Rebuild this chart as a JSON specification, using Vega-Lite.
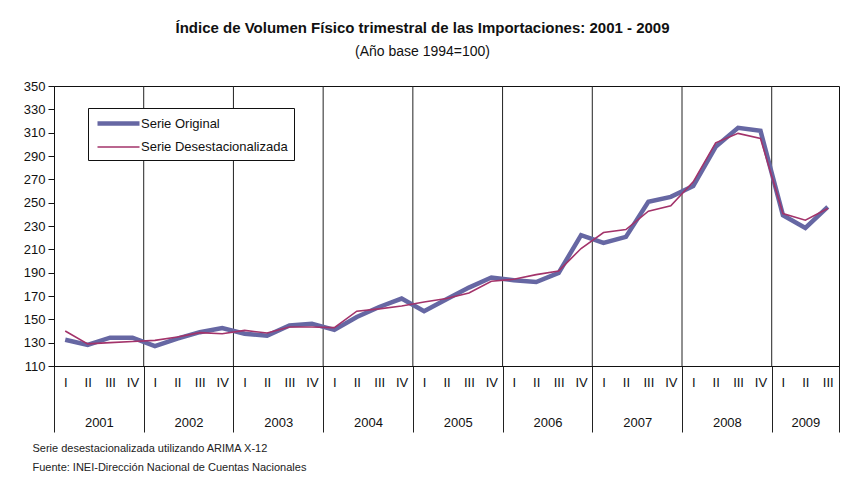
{
  "$schema": "https://vega.github.io/schema/vega-lite/v6.json",
  "width": 785,
  "height": 280,
  "autosize": {"type": "none"},
  "padding": {"left": 54, "top": 86, "right": 7, "bottom": 118},
  "background": "white",
  "title": {
    "text": "Índice de Volumen Físico trimestral de las Importaciones: 2001 - 2009",
    "subtitle": "(Año base 1994=100)",
    "anchor": "middle",
    "dx": -24,
    "offset": 21,
    "font": "Liberation Sans, Arial, sans-serif",
    "fontSize": 15,
    "fontWeight": "bold",
    "color": "#111",
    "subtitleFont": "Liberation Sans, Arial, sans-serif",
    "subtitleFontSize": 14,
    "subtitleColor": "#111",
    "subtitlePadding": 9
  },
  "config": {
    "view": {"stroke": "#111", "strokeWidth": 1},
    "font": "Liberation Sans, Arial, sans-serif",
    "axis": {"labelFont": "Liberation Sans, Arial, sans-serif", "labelFontSize": 13, "labelColor": "#111", "grid": false},
    "axisY": {"labelOverlap": false}
  },
  "datasets": {
    "series": [
      {"t": 0.5, "anio": 2001, "trim": "I", "serie": "Serie Original", "valor": 132.5},
      {"t": 1.5, "anio": 2001, "trim": "II", "serie": "Serie Original", "valor": 128},
      {"t": 2.5, "anio": 2001, "trim": "III", "serie": "Serie Original", "valor": 134.3},
      {"t": 3.5, "anio": 2001, "trim": "IV", "serie": "Serie Original", "valor": 134.3},
      {"t": 4.5, "anio": 2002, "trim": "I", "serie": "Serie Original", "valor": 127},
      {"t": 5.5, "anio": 2002, "trim": "II", "serie": "Serie Original", "valor": 133.4},
      {"t": 6.5, "anio": 2002, "trim": "III", "serie": "Serie Original", "valor": 139},
      {"t": 7.5, "anio": 2002, "trim": "IV", "serie": "Serie Original", "valor": 142.6},
      {"t": 8.5, "anio": 2003, "trim": "I", "serie": "Serie Original", "valor": 137.7},
      {"t": 9.5, "anio": 2003, "trim": "II", "serie": "Serie Original", "valor": 136},
      {"t": 10.5, "anio": 2003, "trim": "III", "serie": "Serie Original", "valor": 144.8},
      {"t": 11.5, "anio": 2003, "trim": "IV", "serie": "Serie Original", "valor": 146.3},
      {"t": 12.5, "anio": 2004, "trim": "I", "serie": "Serie Original", "valor": 141},
      {"t": 13.5, "anio": 2004, "trim": "II", "serie": "Serie Original", "valor": 152},
      {"t": 14.5, "anio": 2004, "trim": "III", "serie": "Serie Original", "valor": 160.6},
      {"t": 15.5, "anio": 2004, "trim": "IV", "serie": "Serie Original", "valor": 167.8},
      {"t": 16.5, "anio": 2005, "trim": "I", "serie": "Serie Original", "valor": 156.9},
      {"t": 17.5, "anio": 2005, "trim": "II", "serie": "Serie Original", "valor": 167.2},
      {"t": 18.5, "anio": 2005, "trim": "III", "serie": "Serie Original", "valor": 177.2},
      {"t": 19.5, "anio": 2005, "trim": "IV", "serie": "Serie Original", "valor": 185.8},
      {"t": 20.5, "anio": 2006, "trim": "I", "serie": "Serie Original", "valor": 183.5},
      {"t": 21.5, "anio": 2006, "trim": "II", "serie": "Serie Original", "valor": 182},
      {"t": 22.5, "anio": 2006, "trim": "III", "serie": "Serie Original", "valor": 189.8},
      {"t": 23.5, "anio": 2006, "trim": "IV", "serie": "Serie Original", "valor": 222.1},
      {"t": 24.5, "anio": 2007, "trim": "I", "serie": "Serie Original", "valor": 215.5},
      {"t": 25.5, "anio": 2007, "trim": "II", "serie": "Serie Original", "valor": 220.7},
      {"t": 26.5, "anio": 2007, "trim": "III", "serie": "Serie Original", "valor": 250.7},
      {"t": 27.5, "anio": 2007, "trim": "IV", "serie": "Serie Original", "valor": 255},
      {"t": 28.5, "anio": 2008, "trim": "I", "serie": "Serie Original", "valor": 264.2},
      {"t": 29.5, "anio": 2008, "trim": "II", "serie": "Serie Original", "valor": 297.9},
      {"t": 30.5, "anio": 2008, "trim": "III", "serie": "Serie Original", "valor": 314.2},
      {"t": 31.5, "anio": 2008, "trim": "IV", "serie": "Serie Original", "valor": 311.6},
      {"t": 32.5, "anio": 2009, "trim": "I", "serie": "Serie Original", "valor": 239.3},
      {"t": 33.5, "anio": 2009, "trim": "II", "serie": "Serie Original", "valor": 228.4},
      {"t": 34.5, "anio": 2009, "trim": "III", "serie": "Serie Original", "valor": 246.4},
      {"t": 0.5, "anio": 2001, "trim": "I", "serie": "Serie Desestacionalizada", "valor": 140},
      {"t": 1.5, "anio": 2001, "trim": "II", "serie": "Serie Desestacionalizada", "valor": 129},
      {"t": 2.5, "anio": 2001, "trim": "III", "serie": "Serie Desestacionalizada", "valor": 130},
      {"t": 3.5, "anio": 2001, "trim": "IV", "serie": "Serie Desestacionalizada", "valor": 131},
      {"t": 4.5, "anio": 2002, "trim": "I", "serie": "Serie Desestacionalizada", "valor": 132},
      {"t": 5.5, "anio": 2002, "trim": "II", "serie": "Serie Desestacionalizada", "valor": 134.8},
      {"t": 6.5, "anio": 2002, "trim": "III", "serie": "Serie Desestacionalizada", "valor": 138.6},
      {"t": 7.5, "anio": 2002, "trim": "IV", "serie": "Serie Desestacionalizada", "valor": 137.7},
      {"t": 8.5, "anio": 2003, "trim": "I", "serie": "Serie Desestacionalizada", "valor": 140.5},
      {"t": 9.5, "anio": 2003, "trim": "II", "serie": "Serie Desestacionalizada", "valor": 138.3},
      {"t": 10.5, "anio": 2003, "trim": "III", "serie": "Serie Desestacionalizada", "valor": 143.4},
      {"t": 11.5, "anio": 2003, "trim": "IV", "serie": "Serie Desestacionalizada", "valor": 143.4},
      {"t": 12.5, "anio": 2004, "trim": "I", "serie": "Serie Desestacionalizada", "valor": 142.9},
      {"t": 13.5, "anio": 2004, "trim": "II", "serie": "Serie Desestacionalizada", "valor": 157},
      {"t": 14.5, "anio": 2004, "trim": "III", "serie": "Serie Desestacionalizada", "valor": 159},
      {"t": 15.5, "anio": 2004, "trim": "IV", "serie": "Serie Desestacionalizada", "valor": 161.4},
      {"t": 16.5, "anio": 2005, "trim": "I", "serie": "Serie Desestacionalizada", "valor": 164.9},
      {"t": 17.5, "anio": 2005, "trim": "II", "serie": "Serie Desestacionalizada", "valor": 167.8},
      {"t": 18.5, "anio": 2005, "trim": "III", "serie": "Serie Desestacionalizada", "valor": 172.6},
      {"t": 19.5, "anio": 2005, "trim": "IV", "serie": "Serie Desestacionalizada", "valor": 182.6},
      {"t": 20.5, "anio": 2006, "trim": "I", "serie": "Serie Desestacionalizada", "valor": 184.3},
      {"t": 21.5, "anio": 2006, "trim": "II", "serie": "Serie Desestacionalizada", "valor": 188.3},
      {"t": 22.5, "anio": 2006, "trim": "III", "serie": "Serie Desestacionalizada", "valor": 191.5},
      {"t": 23.5, "anio": 2006, "trim": "IV", "serie": "Serie Desestacionalizada", "valor": 210.7},
      {"t": 24.5, "anio": 2007, "trim": "I", "serie": "Serie Desestacionalizada", "valor": 224.4},
      {"t": 25.5, "anio": 2007, "trim": "II", "serie": "Serie Desestacionalizada", "valor": 227},
      {"t": 26.5, "anio": 2007, "trim": "III", "serie": "Serie Desestacionalizada", "valor": 242.7},
      {"t": 27.5, "anio": 2007, "trim": "IV", "serie": "Serie Desestacionalizada", "valor": 247.3},
      {"t": 28.5, "anio": 2008, "trim": "I", "serie": "Serie Desestacionalizada", "valor": 267.9},
      {"t": 29.5, "anio": 2008, "trim": "II", "serie": "Serie Desestacionalizada", "valor": 301.3},
      {"t": 30.5, "anio": 2008, "trim": "III", "serie": "Serie Desestacionalizada", "valor": 309.4},
      {"t": 31.5, "anio": 2008, "trim": "IV", "serie": "Serie Desestacionalizada", "valor": 305},
      {"t": 32.5, "anio": 2009, "trim": "I", "serie": "Serie Desestacionalizada", "valor": 240.7},
      {"t": 33.5, "anio": 2009, "trim": "II", "serie": "Serie Desestacionalizada", "valor": 235},
      {"t": 34.5, "anio": 2009, "trim": "III", "serie": "Serie Desestacionalizada", "valor": 245}
    ],
    "limites": [
      {"b": 4}, {"b": 8}, {"b": 12}, {"b": 16}, {"b": 20}, {"b": 24}, {"b": 28}, {"b": 32}
    ]
  },
  "resolve": {"axis": {"x": "independent"}},
  "layer": [
    {
      "data": {"name": "limites"},
      "mark": {"type": "rule", "color": "#222", "strokeWidth": 1},
      "encoding": {
        "x": {
          "field": "b", "type": "quantitative",
          "scale": {"domain": [0, 35], "nice": false, "zero": false},
          "axis": {
            "orient": "bottom", "title": null,
            "values": [0, 4, 8, 12, 16, 20, 24, 28, 32, 35],
            "labels": false, "domain": false,
            "ticks": true, "tickSize": 66, "tickColor": "#222", "tickWidth": 1
          }
        }
      }
    },
    {
      "data": {"name": "series"},
      "transform": [{"filter": "datum.serie === 'Serie Original'"}],
      "mark": {"type": "line"},
      "encoding": {
        "x": {
          "field": "t", "type": "quantitative",
          "axis": {
            "orient": "bottom", "title": null,
            "values": [0.5, 1.5, 2.5, 3.5, 4.5, 5.5, 6.5, 7.5, 8.5, 9.5, 10.5, 11.5, 12.5, 13.5, 14.5, 15.5, 16.5, 17.5, 18.5, 19.5, 20.5, 21.5, 22.5, 23.5, 24.5, 25.5, 26.5, 27.5, 28.5, 29.5, 30.5, 31.5, 32.5, 33.5, 34.5],
            "labelExpr": "['I','II','III','IV'][floor(datum.value) % 4]",
            "ticks": false, "labelPadding": 10, "labelFlush": false, "labelOverlap": false,
            "domain": true, "domainColor": "#111", "domainWidth": 1
          }
        },
        "y": {
          "field": "valor", "type": "quantitative",
          "scale": {"domain": [110, 350], "nice": false, "zero": false},
          "axis": {
            "title": null,
            "values": [110, 130, 150, 170, 190, 210, 230, 250, 270, 290, 310, 330, 350],
            "tickCount": 13,
            "tickSize": 6, "tickColor": "#111", "domainColor": "#111",
            "labelPadding": 3, "labelOverlap": false, "labelFlush": false
          }
        },
        "color": {
          "field": "serie", "type": "nominal",
          "scale": {"domain": ["Serie Original", "Serie Desestacionalizada"], "range": ["#6667A3", "#A3336A"]},
          "legend": {
            "title": null, "orient": "none", "legendX": 34, "legendY": 22,
            "strokeColor": "#111", "fillColor": "white", "padding": 6,
            "labelFont": "Liberation Sans, Arial, sans-serif",
            "labelFontSize": 13, "labelColor": "#111", "labelLimit": 300,
            "symbolType": "M-3,0H3", "symbolSize": 196, "symbolOffset": 15,
            "labelOffset": 13, "rowPadding": 6
          }
        },
        "strokeWidth": {
          "field": "serie", "type": "ordinal",
          "scale": {"domain": ["Serie Original", "Serie Desestacionalizada"], "range": [4.5, 1.6]},
          "legend": {
            "title": null, "orient": "none", "legendX": 34, "legendY": 22,
            "strokeColor": "#111", "fillColor": "white", "padding": 6,
            "labelFont": "Liberation Sans, Arial, sans-serif",
            "labelFontSize": 13, "labelColor": "#111", "labelLimit": 300,
            "symbolType": "M-3,0H3", "symbolSize": 196, "symbolOffset": 15,
            "labelOffset": 13, "rowPadding": 6
          }
        }
      }
    },
    {
      "data": {"name": "series"},
      "transform": [{"filter": "datum.serie === 'Serie Desestacionalizada'"}],
      "mark": {"type": "line"},
      "encoding": {
        "x": {
          "field": "t", "type": "quantitative",
          "axis": {
            "orient": "bottom",
            "values": [2, 6, 10, 14, 18, 22, 26, 30, 33.5],
            "labelExpr": "'' + (2001 + floor(datum.value / 4))",
            "ticks": false, "domain": false, "labelPadding": 50,
            "labelFlush": false, "labelOverlap": false,
            "title": ["Serie desestacionalizada utilizando ARIMA X-12", "Fuente: INEI-Dirección Nacional de Cuentas Nacionales"],
            "titleAnchor": "start", "titleAlign": "left", "titleBaseline": "top",
            "titleX": -22, "titleY": 76,
            "titleFont": "Liberation Sans, Arial, sans-serif",
            "titleFontSize": 11, "titleFontWeight": "normal", "titleColor": "#222",
            "titleLineHeight": 19
          }
        },
        "y": {
          "field": "valor", "type": "quantitative",
          "axis": {
            "title": null,
            "values": [110, 130, 150, 170, 190, 210, 230, 250, 270, 290, 310, 330, 350],
            "tickCount": 13,
            "tickSize": 6, "tickColor": "#111", "domainColor": "#111",
            "labelPadding": 3, "labelOverlap": false, "labelFlush": false
          }
        },
        "color": {"field": "serie", "type": "nominal"},
        "strokeWidth": {"field": "serie", "type": "ordinal"}
      }
    }
  ]
}
